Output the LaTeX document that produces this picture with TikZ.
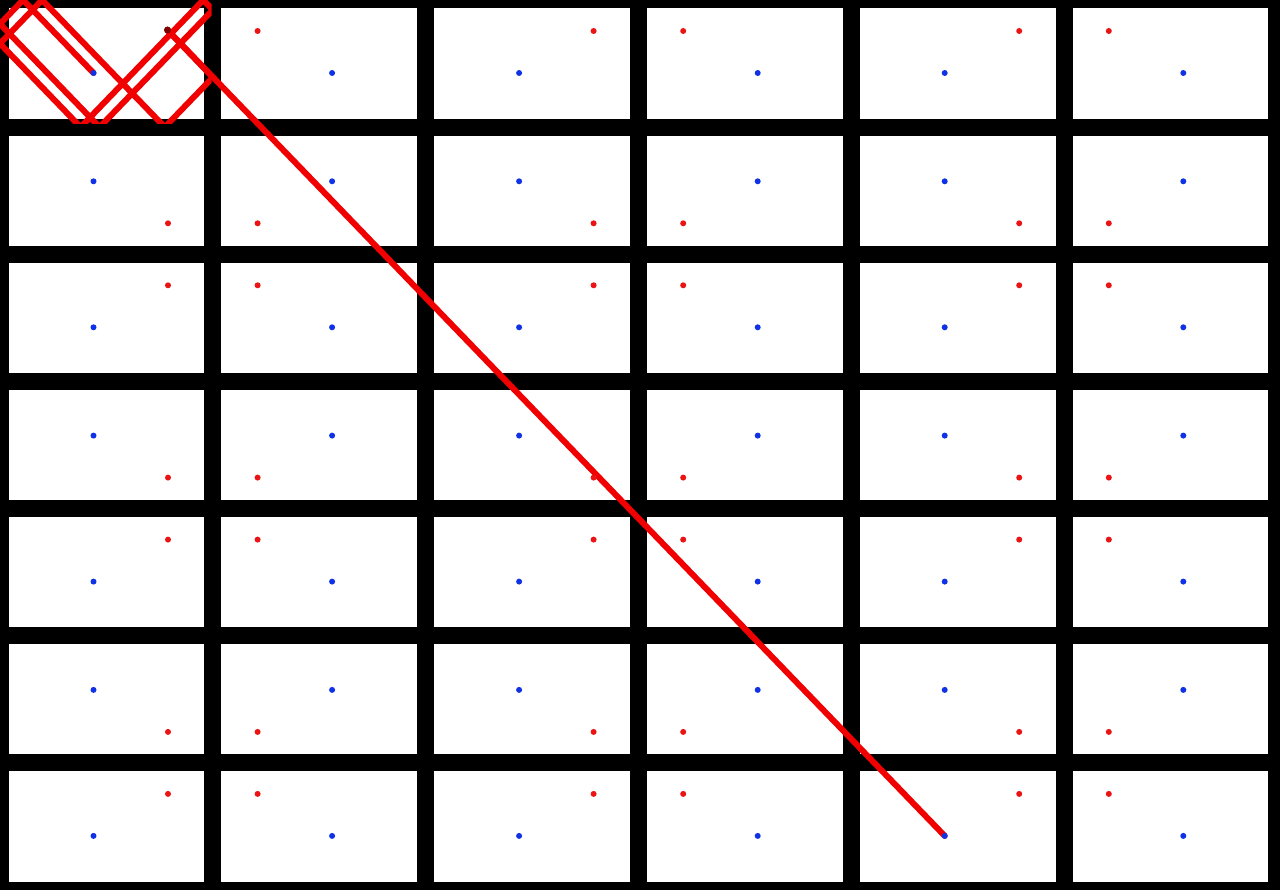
\documentclass[tikz,border=0pt]{standalone}
\definecolor{dotred}{RGB}{235,20,20}
\definecolor{dotblue}{RGB}{15,50,230}
\definecolor{linered}{RGB}{240,0,0}
\definecolor{startred}{RGB}{125,0,0}
\begin{document}
\begin{tikzpicture}[x=1pt,y=-1pt,
  bdot/.style={circle,fill=dotblue,inner sep=0pt,minimum size=6pt},
  rdot/.style={circle,fill=dotred,inner sep=0pt,minimum size=6pt},
  sdot/.style={circle,fill=startred,inner sep=0pt,minimum size=7pt},
  ray/.style={draw=linered,line width=6pt,line cap=round,line join=round}]
\useasboundingbox (0,0) rectangle (1280,890);
\fill[black] (0,0) rectangle (1280,890);
\foreach \i in {0,...,5} {
  \foreach \j in {0,...,6} {
    \pgfmathsetmacro{\xa}{\i*212.8}
    \pgfmathsetmacro{\ya}{\j*127.15}
    \fill[white] (\xa+8.5,\ya+8.5) rectangle (\xa+204.3,\ya+118.65);
    \pgfmathsetmacro{\bx}{\xa+ifthenelse(mod(\i,2)==0,93.5,119.3)}
    \pgfmathsetmacro{\by}{\ya+ifthenelse(mod(\j,2)==0,73,54.15)}
    \pgfmathsetmacro{\rx}{\xa+ifthenelse(mod(\i,2)==0,168,44.8)}
    \pgfmathsetmacro{\ry}{\ya+ifthenelse(mod(\j,2)==0,31,96.15)}
    \coordinate (bc-\i-\j) at (\bx,\by);
    \coordinate (rc-\i-\j) at (\rx,\ry);
  }
}
\coordinate (start) at (167.5,30);
% folded reflections inside the first cell
\coordinate (p1) at (212.8,77.4);
\coordinate (p2) at (164.8,127.15);
\coordinate (p3) at (42.1,0);
\coordinate (p4) at (0,43.6);
\coordinate (p5) at (80.6,127.15);
\coordinate (p6) at (203.3,0);
\coordinate (p7) at (212.8,9.9);
\coordinate (p8) at (99.6,127.15);
\coordinate (p9) at (0,23.9);
\coordinate (p10) at (23.1,0);
\begin{scope}
  \clip (-10,-10) rectangle (211.5,123.6);
  \draw[ray] (start) -- (p1) -- (p2) -- (p3) -- (p4) -- (p5) -- (p6) -- (p7)
    -- (p8) -- (p9) -- (p10) -- (bc-0-0);
\end{scope}
\draw[ray] (start) -- (bc-4-6);
\foreach \i in {0,...,5} {
  \foreach \j in {0,...,6} {
    \node[bdot] (b-\i-\j) at (bc-\i-\j) {};
  }
}
\foreach \i in {1,...,5} {\node[rdot] (r-\i-0) at (rc-\i-0) {};}
\foreach \i in {0,...,5} {
  \foreach \j in {1,...,6} {
    \node[rdot] (r-\i-\j) at (rc-\i-\j) {};
  }
}
\node[sdot] (r-0-0) at (start) {};
\end{tikzpicture}
\end{document}
